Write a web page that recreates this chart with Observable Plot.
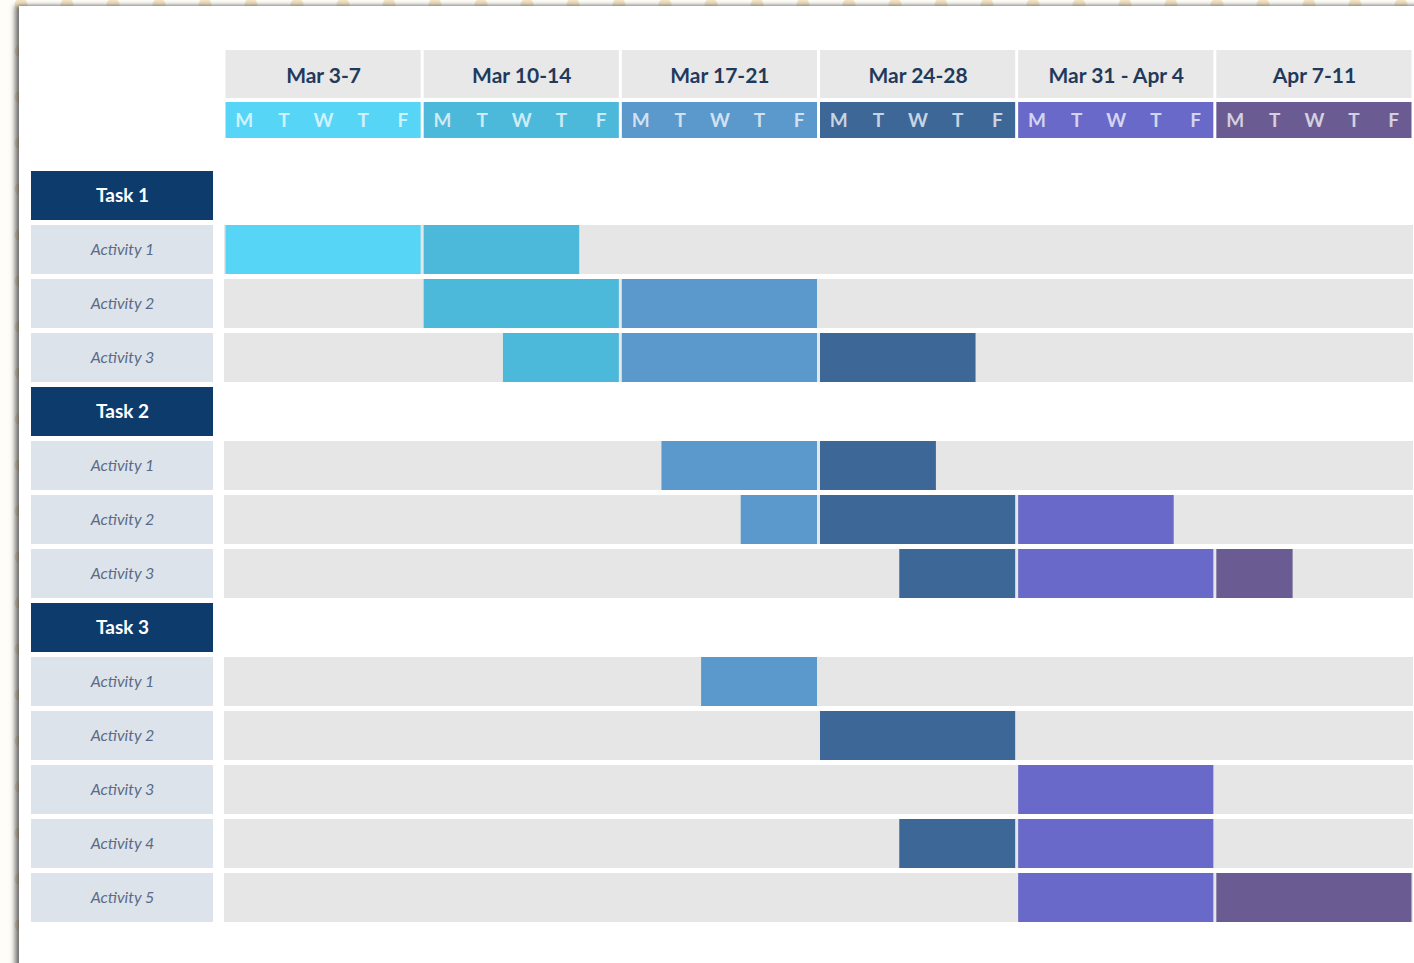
<!DOCTYPE html>
<html>
<head>
<meta charset="utf-8">
<script src="https://cdn.jsdelivr.net/npm/d3@7"></script>
<script src="https://cdn.jsdelivr.net/npm/@observablehq/plot@0.6"></script>
<style>
  html, body { margin: 0; padding: 0; }
  body {
    width: 1414px; height: 963px; overflow: hidden; position: relative;
    background-color: #fffdf8;
    background-image: radial-gradient(circle, #f4e4c4 6px, transparent 7px);
    background-size: 46px 46px;
    background-position: -2px -18px;
    font-family: Lato, "Noto Sans", sans-serif;
  }
  #slide {
    position: absolute; left: 19px; top: 6px; width: 1420px; height: 980px;
    background: #ffffff;
    box-shadow: -4px 0 5px rgba(70,70,70,0.75), 0 -1px 3px rgba(120,120,120,0.35);
  }
  .layer { position: absolute; }
  svg { display: block; }
</style>
</head>
<body>
<div id="slide"></div>
<div id="header" class="layer" style="left:0;top:0;"></div>
<div id="labels" class="layer" style="left:0;top:150px;"></div>
<div id="body" class="layer" style="left:224px;top:150px;"></div>
<script>
// ---- data ----
const weeks = ["Mar 3-7", "Mar 10-14", "Mar 17-21", "Mar 24-28", "Mar 31 - Apr 4", "Apr 7-11"];
const dayLetters = ["M", "T", "W", "T", "F"];
const taskNames = ["Task 1", "Task 2", "Task 3"];
const activityTask = [0, 0, 0, 1, 1, 1, 2, 2, 2, 2, 2];
const activityNames = ["Activity 1", "Activity 2", "Activity 3",
                       "Activity 1", "Activity 2", "Activity 3",
                       "Activity 1", "Activity 2", "Activity 3", "Activity 4", "Activity 5"];
const startDay = [0, 5, 7, 11, 13, 17, 12, 15, 20, 17, 20];
const endDay   = [9, 15, 19, 18, 24, 27, 15, 20, 25, 25, 30];

// ---- styles ----
const weekColors = ["#57d5f7", "#4cb9da", "#5b98cc", "#3c6797", "#6869c8", "#6a5b92"];
const colorScale = {type: "ordinal", domain: weeks, range: weekColors};
const font = {fontFamily: "Lato, 'Noto Sans', sans-serif", background: "transparent", overflow: "visible"};

// ---- derived tables ----
const rows = [];
taskNames.forEach((t, ti) => {
  rows.push({id: t, label: t, kind: "task"});
  activityNames.forEach((a, ai) => {
    if (activityTask[ai] === ti) rows.push({id: t + " · " + a, label: a, kind: "activity", ai});
  });
});
const activityRows = rows.filter(r => r.kind === "activity");
const segments = [];
activityRows.forEach(r => {
  const s = startDay[r.ai], e = endDay[r.ai];
  weeks.forEach((w, wi) => {
    const a = Math.max(s, wi * 5), b = Math.min(e, wi * 5 + 5);
    if (a < b) segments.push({id: r.id, x1: a, x2: b, week: w});
  });
});
const weekCells = weeks.map((w, wi) => ({week: w, x1: wi * 5, x2: wi * 5 + 5}));
const dayCells = [];
weeks.forEach((w, wi) => dayLetters.forEach((d, di) => dayCells.push({week: w, letter: d, x: wi * 5 + di + 0.5})));
const totalDays = weeks.length * dayLetters.length;

const yBand = {type: "band", domain: rows.map(r => r.id), range: [21, 771.6], paddingInner: 0.1, paddingOuter: 0, axis: null};

// ---- header ----
const header = Plot.plot({
  width: 1414, height: 150, margin: 0,
  style: font,
  x: {domain: [0, totalDays], range: [224, 1413], axis: null},
  y: {type: "band", domain: ["week", "day"], range: [50, 150], paddingInner: 0.077, paddingOuter: 0, axis: null},
  color: colorScale,
  marks: [
    Plot.barX(weekCells, {x1: "x1", x2: "x2", y: () => "week", fill: "#e8e8e8", insetLeft: 1.5, insetRight: 1.5}),
    Plot.text(weekCells, {x: d => (d.x1 + d.x2) / 2, y: () => "week", text: "week", fill: "#1f3a5c",
      fontSize: 21, fontWeight: "bold", dy: 2}),
    Plot.barX(weekCells, {x1: "x1", x2: "x2", y: () => "day", fill: "week", insetLeft: 1.5, insetRight: 1.5, insetBottom: 12}),
    Plot.text(dayCells, {x: "x", y: () => "day", text: "letter", fill: "white", fillOpacity: 0.72,
      fontSize: 19, fontWeight: "bold", dy: -6})
  ]
});
document.getElementById("header").appendChild(header);

// ---- row labels ----
const labels = Plot.plot({
  width: 224, height: 813, margin: 0,
  style: font,
  x: {type: "band", domain: ["label"], range: [31, 213], padding: 0, axis: null},
  y: yBand,
  marks: [
    Plot.cell(rows, {x: () => "label", y: "id", fill: d => d.kind === "task" ? "#0c3b6c" : "#dde3eb"}),
    Plot.text(rows.filter(r => r.kind === "task"), {x: () => "label", y: "id", text: "label",
      fill: "white", fontSize: 19, fontWeight: "bold"}),
    Plot.text(activityRows, {x: () => "label", y: "id", text: "label",
      fill: "#5b6b86", fontSize: 16, fontStyle: "italic"})
  ]
});
document.getElementById("labels").appendChild(labels);

// ---- gantt body ----
const body = Plot.plot({
  width: 1190, height: 813, margin: 0, marginRight: 1,
  style: font,
  x: {domain: [0, totalDays], range: [0, 1189], axis: null},
  y: yBand,
  color: colorScale,
  marks: [
    Plot.cell(activityRows, {y: "id", fill: "#e6e6e6"}),
    Plot.barX(segments, {x1: "x1", x2: "x2", y: "id", fill: "week", insetLeft: 1.5, insetRight: 1.5})
  ]
});
document.getElementById("body").appendChild(body);
</script>
</body>
</html>
